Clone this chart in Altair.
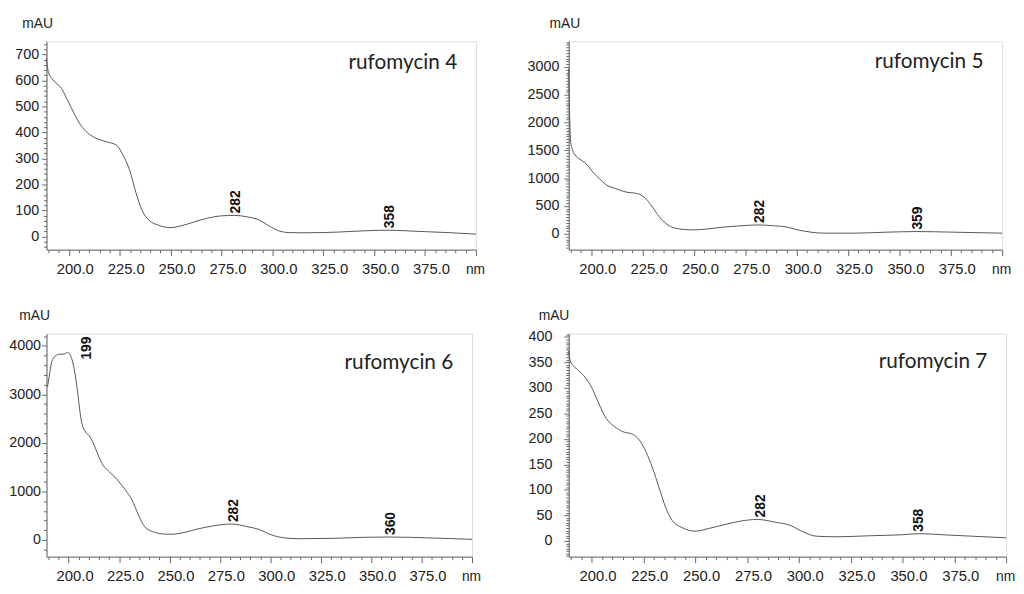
import altair as alt
import pandas as pd

# ---------------- data ----------------
# rufomycin 4
nm4 = [188.9, 190.0, 191.6, 196.3, 199.5, 202.7, 205.9, 209.1, 213.9, 218.6, 223.4, 226.6,
       229.8, 233.0, 236.1, 239.3, 244.1, 249.7, 255.3, 261.6, 268.0, 274.4, 281.5, 287.1,
       293.5, 298.2, 303.0, 307.8, 314.2, 325.3, 338.1, 346.0, 358.3, 369.9, 385.8, 400.0]
ab4 = [687, 630, 608, 570, 522, 471, 427, 399, 376, 364, 351, 313,
       256, 167, 98, 63, 43, 34, 41, 56, 70, 79, 81, 76,
       63, 41, 22, 15, 14, 15, 19, 22, 24, 20, 15, 9]
pk4_nm = [282, 358]
pk4_v = [81, 24]
pk4_lab = ["282", "358"]

# rufomycin 5
nm5 = [188.9, 189.4, 189.9, 190.7, 192.0, 194.4, 197.6, 200.8, 204.0, 207.2, 212.0, 216.9,
       222.5, 226.5, 229.7, 233.0, 236.2, 241.0, 249.0, 255.5, 263.5, 271.5, 281.2, 287.6,
       295.7, 300.5, 306.9, 313.3, 327.8, 343.9, 358.4, 376.0, 400.0]
ab5 = [2970, 2142, 1669, 1521, 1420, 1343, 1254, 1107, 988, 882, 811, 751,
       722, 633, 485, 308, 189, 101, 71, 83, 118, 142, 160, 148,
       118, 71, 30, 12, 12, 30, 41, 30, 12]
pk5_nm = [282, 359]
pk5_v = [160, 41]
pk5_lab = ["282", "359"]

# rufomycin 6
nm6 = [189.5, 190.3, 191.6, 193.2, 195.5, 197.1, 199.5, 200.8, 202.7, 204.3, 206.2, 208.3,
       209.9, 211.9, 214.6, 217.0, 220.2, 224.2, 228.2, 231.4, 234.6, 237.7, 241.7, 247.3,
       250.5, 256.8, 263.2, 271.2, 280.7, 288.7, 294.3, 299.8, 306.2, 314.2, 330.1, 346.0,
       357.9, 369.9, 385.8, 400.0]
ab6 = [3156, 3362, 3671, 3787, 3828, 3828, 3863, 3808, 3533, 3087, 2470, 2230,
       2161, 2024, 1750, 1544, 1406, 1235, 1029, 823, 515, 274, 172, 123,
       117, 151, 220, 288, 329, 274, 220, 117, 48, 27, 34, 55,
       62, 55, 34, 14]
pk6_nm = [282, 360]
pk6_v = [329, 62]
pk6_lab = ["282", "360"]
pk6_top_nm = [199]
pk6_top_v = [3860]
pk6_top_lab = ["199"]

# rufomycin 7
nm7 = [188.9, 189.7, 191.3, 193.7, 196.8, 200.0, 203.2, 207.1, 211.1, 215.1, 219.8, 223.0,
       226.2, 229.4, 232.5, 235.7, 238.9, 243.7, 250.0, 256.3, 264.3, 272.2, 280.2, 288.1,
       296.0, 302.4, 308.7, 318.3, 334.1, 350.0, 357.9, 373.8, 400.0]
ab7 = [372, 353, 343, 334, 321, 301, 272, 240, 224, 214, 209, 198,
       175, 143, 105, 66, 40, 26, 19, 24, 32, 39, 42, 37,
       30, 17, 9, 8, 10, 12, 14, 11, 6]
pk7_nm = [282, 358]
pk7_v = [42, 14]
pk7_lab = ["282", "358"]

titles = ["rufomycin 4", "rufomycin 5", "rufomycin 6", "rufomycin 7"]

X_DOMAIN = [189, 400]
X_TICKS = list(range(190, 401, 5))

# ---------------- styling ----------------
LINE_COLOR = "#555555"
AXIS_COLOR = "#666666"
TEXT_COLOR = "#222222"
AX_FONT = "Liberation Sans"


def make_panel(nm, ab, pk_nm, pk_v, pk_lab, title, ydom, ymaj, ymin, w, h,
               lab_pad, mau_x, title_dy, top_peak=None):
    xs = alt.Scale(domain=X_DOMAIN, nice=False, zero=False)
    ys = alt.Scale(domain=ydom, nice=False, zero=False)
    common = dict(
        labelFont=AX_FONT, labelColor=TEXT_COLOR,
        labelOverlap=False, labelFlush=False, labelBound=False,
        titleAngle=0, titleBaseline="middle", titleFontWeight="normal",
        titleFontSize=14, titleFont=AX_FONT, titleColor=TEXT_COLOR, grid=False,
        domainColor=AXIS_COLOR, tickColor=AXIS_COLOR, domainWidth=1, tickWidth=1,
    )
    xaxis = alt.Axis(
        values=X_TICKS,
        labelExpr="datum.value % 25 === 0 && datum.value <= 375 ? format(datum.value, '.1f') : ''",
        tickSize={"condition": {"test": "datum.value % 25 === 0", "value": 6}, "value": 3},
        labelOffset=6, labelPadding=6, labelFontSize=15,
        title="nm", titleX=w - 1, titleY=20, titleAlign="center",
        **common,
    )
    start = -((-ydom[0]) // ymin) * ymin
    yvals = list(range(int(start), int(ydom[1]) + 1, ymin))
    yaxis = alt.Axis(
        values=yvals,
        labelExpr=f"datum.value % {ymaj} === 0 && datum.value >= 0 ? format(datum.value, 'd') : ''",
        tickSize={"condition": {"test": f"datum.value % {ymaj} === 0", "value": 5}, "value": 3},
        labelPadding=lab_pad, labelFontSize=14.5,
        title="mAU", titleX=mau_x, titleY=-18, titleAlign="left",
        **common,
    )
    X = alt.X("nm:Q", scale=xs, axis=xaxis)
    Y = alt.Y("v:Q", scale=ys, axis=yaxis)

    curve = alt.Chart(pd.DataFrame({"nm": nm, "v": ab})).mark_line(
        color=LINE_COLOR, strokeWidth=1, interpolate="monotone"
    ).encode(x=X, y=Y)

    peaks = alt.Chart(pd.DataFrame({"nm": pk_nm, "v": pk_v, "lab": pk_lab})).mark_text(
        angle=270, align="left", baseline="middle", dx=2, font=AX_FONT,
        fontWeight="bold", fontSize=14, color="#111111"
    ).encode(x=X, y=Y, text="lab:N")

    layers = [curve, peaks]
    if top_peak is not None:
        tnm, tv, tlab = top_peak
        layers.append(
            alt.Chart(pd.DataFrame({"nm": tnm, "v": tv, "lab": tlab})).mark_text(
                angle=270, align="left", baseline="middle", dx=-7, dy=21, font=AX_FONT,
                fontWeight="bold", fontSize=14, color="#111111"
            ).encode(x=X, y=Y, text="lab:N")
        )

    name = alt.Chart(pd.DataFrame({"t": [title]})).mark_text(
        align="right", baseline="middle", font="Lato", fontSize=21, color=TEXT_COLOR
    ).encode(x=alt.value(w - 19), y=alt.value(title_dy), text="t:N")
    layers.append(name)

    return alt.layer(*layers).properties(width=w, height=h)


p4 = make_panel(nm4, ab4, pk4_nm, pk4_v, pk4_lab, titles[0], [-50.7, 750.7], 100, 20,
                435, 211, 3, -25, 22)
p5 = make_panel(nm5, ab5, pk5_nm, pk5_v, pk5_lab, titles[1], [-284, 3461], 500, 50,
                439, 211, 5, -20, 21)
p6 = make_panel(nm6, ab6, pk6_nm, pk6_v, pk6_lab, titles[2], [-343, 4254], 1000, 200,
                431, 226, 1, -28, 30, top_peak=(pk6_top_nm, pk6_top_v, pk6_top_lab))
p7 = make_panel(nm7, ab7, pk7_nm, pk7_v, pk7_lab, titles[3], [-31, 406.5], 50, 5,
                443, 226, 12, -31, 29)

row1 = alt.hconcat(p4, p5, spacing=94, bounds="flush")
row2 = alt.hconcat(p6, p7, spacing=98, bounds="flush")

chart = alt.vconcat(row1, row2, spacing=31).properties(
    padding={"left": 0, "top": 4, "right": 0, "bottom": 0}
).configure_view(
    stroke=AXIS_COLOR, strokeWidth=1
).configure(background="white")

chart.save("out.html", embed_options={"renderer": "svg", "actions": False})
